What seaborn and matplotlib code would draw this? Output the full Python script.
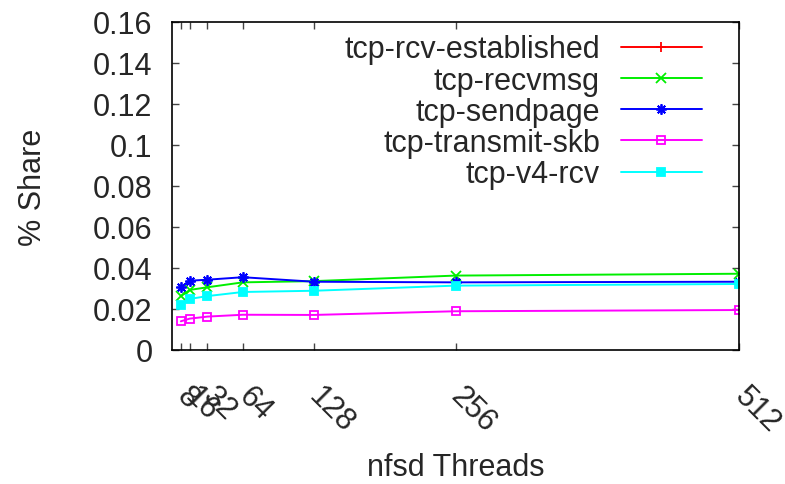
import numpy as np
import pandas as pd
import matplotlib
matplotlib.use("Agg")
import matplotlib.pyplot as plt
from matplotlib.lines import Line2D
import seaborn as sns

# nfsd thread counts on the x axis
threads = [8, 16, 32, 64, 128, 256, 512]

# share of samples per kernel function
rcv_established = [np.nan] * 7
recvmsg = [0.0262, 0.0293, 0.0306, 0.0330, 0.0336, 0.0363, 0.0372]
sendpage = [0.0306, 0.0338, 0.0343, 0.0355, 0.0333, 0.0330, 0.0333]
transmit_skb = [0.0140, 0.0153, 0.0163, 0.0172, 0.0171, 0.0189, 0.0195]
v4_rcv = [0.0218, 0.0249, 0.0263, 0.0283, 0.0289, 0.0314, 0.0322]

labels = ["tcp-rcv-established", "tcp-recvmsg", "tcp-sendpage",
          "tcp-transmit-skb", "tcp-v4-rcv"]
yticks = [0, 0.02, 0.04, 0.06, 0.08, 0.1, 0.12, 0.14, 0.16]
ytick_labels = ["0", "0.02", "0.04", "0.06", "0.08", "0.1", "0.12", "0.14", "0.16"]

series = [rcv_established, recvmsg, sendpage, transmit_skb, v4_rcv]
colors = ["#ff0000", "#00ee00", "#0000ff", "#ff00ff", "#00ffff"]
markers = ["+", "x", (8, 2, 0), "s", "s"]
fills = ["full", "full", "full", "none", "full"]
msizes = [7, 6.5, 7.5, 6, 6]

FS = 22

sns.set_style("ticks")
plt.rcParams["font.family"] = ["Liberation Sans", "DejaVu Sans"]

fig = plt.figure(figsize=(7.85, 4.85), dpi=100)
ax = fig.add_axes([172 / 785, 1 - 351 / 485, (739 - 172) / 785, (351 - 23) / 485])

handles = []
for vals, lab, c, m, fs, ms in zip(series, labels, colors, markers, fills, msizes):
    df = pd.DataFrame({"threads": threads, "share": vals}).dropna()
    if len(df):
        sns.lineplot(data=df, x="threads", y="share", ax=ax, color=c,
                     marker=m, fillstyle=fs, markersize=ms, markeredgewidth=1.3,
                     markeredgecolor=c, linewidth=1.4, estimator=None,
                     legend=False)
    handles.append(Line2D([], [], color=c, marker=m, fillstyle=fs,
                          markersize=ms, markeredgewidth=1.3, linewidth=1.4,
                          markeredgecolor=c))

ax.set_xlim(0, 512)
ax.set_ylim(0, 0.16)
ax.set_xticks(threads)
ax.set_xticklabels([str(t) for t in threads], rotation=-45, ha="left",
                   va="center", rotation_mode="anchor")
ax.set_yticks(yticks)
ax.set_yticklabels(ytick_labels)

ax.tick_params(axis="both", direction="in", length=5, width=1, color="#444444",
               labelsize=FS, top=True, right=True)
ax.tick_params(axis="y", pad=14)
ax.tick_params(axis="x", pad=30)
for s in ax.spines.values():
    s.set_visible(True)
    s.set_linewidth(1.2)
    s.set_color("black")

ax.set_xlabel("nfsd Threads", fontsize=FS, labelpad=10)
ax.set_ylabel("% Share", fontsize=FS, labelpad=32)

leg = ax.legend(handles, labels, loc="upper right", frameon=False,
                markerfirst=False, fontsize=FS, handlelength=2.65,
                handletextpad=0.69, labelspacing=0.04, borderaxespad=0.2,
                bbox_to_anchor=(0.967, 1.018))

fig.savefig("out.png", dpi=100)
